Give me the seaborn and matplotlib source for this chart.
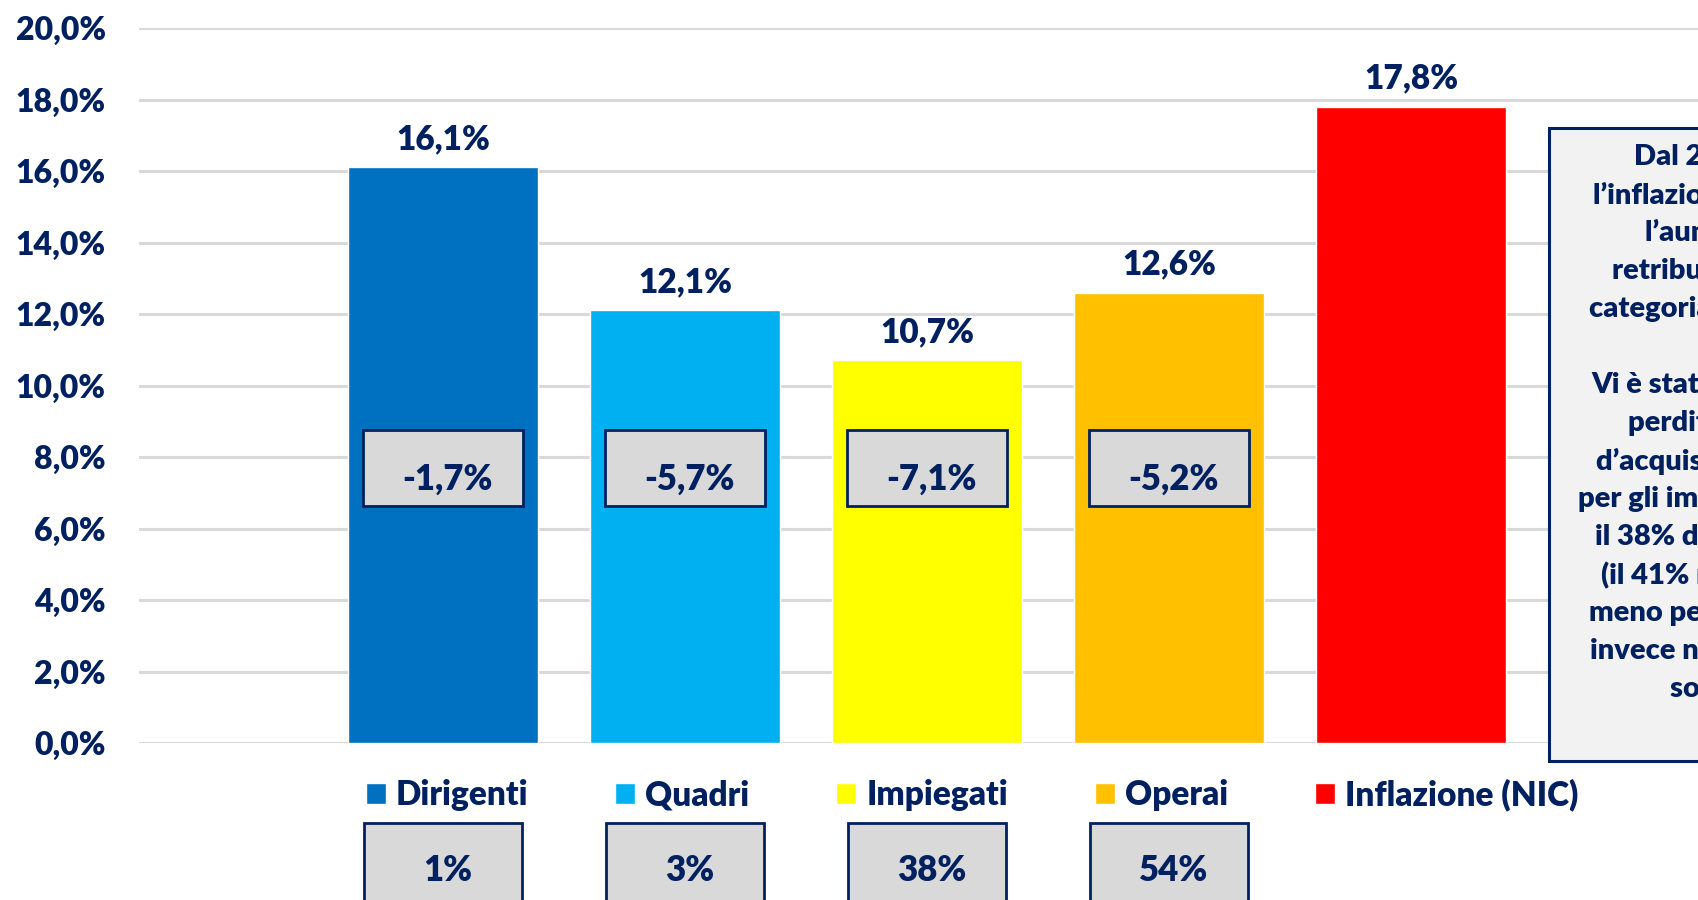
import pandas as pd
import seaborn as sns
import matplotlib.pyplot as plt
from matplotlib.patches import Rectangle, Patch
from matplotlib.transforms import blended_transform_factory

# ── Data ──────────────────────────────────────────────────────────────────────
categorie = ['Dirigenti', 'Quadri', 'Impiegati', 'Operai', 'Inflazione (NIC)']
aumento   = [16.1, 12.1, 10.7, 12.6, 17.8]
colori    = ['#0070C0', '#00B0F0', '#FFFF00', '#FFC000', '#FF0000']
perdita   = ['-1,7%', '-5,7%', '-7,1%', '-5,2%']
quota     = ['1%', '3%', '38%', '54%']
nota      = ['Dal 2019 al 2023',
             'l\u2019inflazione ha superato',
             'l\u2019aumento delle',
             'retribuzioni per ogni',
             'categoria dei lavoratori,',
             '',
             'Vi \u00e8 stata una maggiore',
             'perdita del potere',
             'd\u2019acquisto, soprattutto',
             'per gli impiegati che sono',
             'il 38% di tutti i salariati',
             '(il 41% nel 2019) e poi',
             'meno per gli operai, che',
             'invece nel 2019 erano il',
             'sono il 54%']

NAVY = '#002060'
W, H = 1698, 900
FW = 'heavy'

def pct(v):
    return f'{v:.1f}%'.replace('.', ',')

df = pd.DataFrame({'categoria': categorie, 'aumento': aumento})

sns.set_theme(style='white')
plt.rcParams['font.family'] = ['Lato', 'DejaVu Sans']
plt.rcParams['font.weight'] = FW

fig = plt.figure(figsize=(W / 100, H / 100), dpi=100)
ax = fig.add_axes([139 / W, 157 / H, 1 - 139 / W, 715 / H])

# ── Bars ──────────────────────────────────────────────────────────────────────
sns.barplot(data=df, x='categoria', y='aumento', hue='categoria',
            palette=colori, saturation=1, width=0.785, legend=False, ax=ax)

ax.set_xlim(-1.256, 5.186)
ax.set_ylim(0, 20)
ax.set_yticks(range(0, 21, 2))
ax.set_yticklabels([pct(v) for v in range(0, 21, 2)],
                   fontsize=23, color=NAVY, fontweight=FW)
ax.tick_params(axis='y', length=0, pad=24)
ax.set_xticks([])
ax.set_xlabel('')
ax.set_ylabel('')
sns.despine(ax=ax, left=True, bottom=True)
ax.yaxis.grid(True, color='#D9D9D9', lw=2.2)
ax.set_axisbelow(True)

# ── Value labels ──────────────────────────────────────────────────────────────
for i, v in enumerate(aumento):
    ax.annotate(pct(v), (i, v), xytext=(0, 9), textcoords='offset points',
                ha='center', va='bottom', fontsize=24, color=NAVY,
                fontweight=FW)

# ── Loss boxes inside bars ────────────────────────────────────────────────────
for i, t in enumerate(perdita):
    ax.add_patch(Rectangle((i - 0.33, 6.63), 0.66, 2.13, facecolor='#D9D9D9',
                           edgecolor=NAVY, lw=2, zorder=3))
    ax.text(i + 0.02, 7.38, t, ha='center', va='center', fontsize=25,
            color=NAVY, fontweight=FW, zorder=4)

# ── Share boxes under legend ──────────────────────────────────────────────────
trans = blended_transform_factory(ax.transData, ax.transAxes)
for i, t in enumerate(quota):
    ax.add_patch(Rectangle((i - 0.327, -0.222), 0.653, 0.11, transform=trans,
                           facecolor='#D9D9D9', edgecolor=NAVY, lw=2,
                           clip_on=False, zorder=3))
    ax.text(i + 0.02, -0.178, t, transform=trans, ha='center', va='center',
            fontsize=25, color=NAVY, fontweight=FW, clip_on=False)

# ── Legend ────────────────────────────────────────────────────────────────────
handles = [Patch(facecolor=c) for c in colori]
fig.legend(handles, categorie, loc='center', bbox_to_anchor=(972 / W, 1 - 795 / H),
           ncol=5, frameon=False, prop={'size': 24, 'weight': FW},
           labelcolor=NAVY, handlelength=0.6, handleheight=0.6,
           handletextpad=0.3, columnspacing=2.6)

# ── Note box on the right ─────────────────────────────────────────────────────
fig.add_artist(Rectangle((1549 / W, 1 - 761 / H), 0.5, 633 / H,
                         transform=fig.transFigure, facecolor='#F2F2F2',
                         edgecolor=NAVY, lw=2.2, zorder=2))
for k, riga in enumerate(nota):
    fig.text(1745 / W, 1 - (157 + k * 38) / H, riga, ha='center', va='center',
             fontsize=21, color=NAVY, fontweight=FW, zorder=3)

fig.savefig('out.png', dpi=100)
